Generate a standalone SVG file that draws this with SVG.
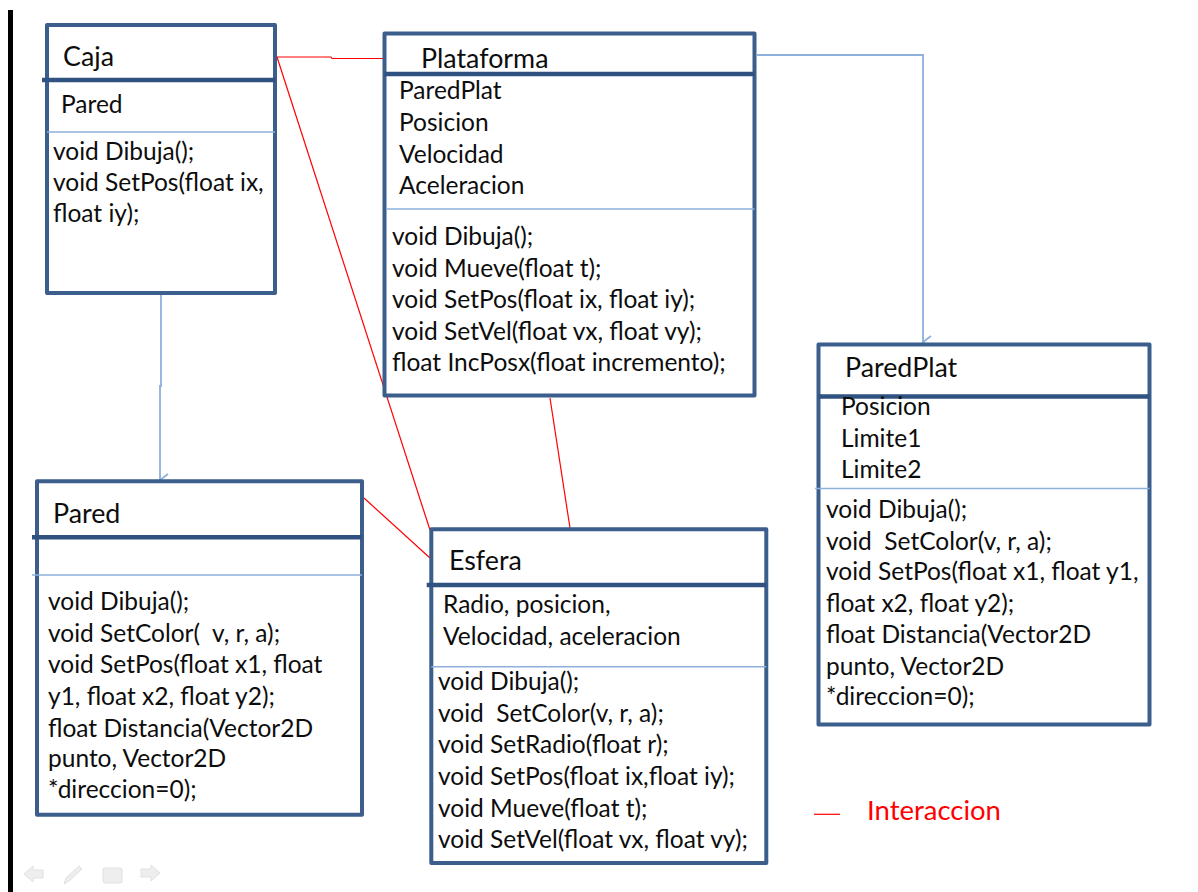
<svg xmlns="http://www.w3.org/2000/svg" width="1198" height="892" viewBox="0 0 1198 892" xml:space="preserve">
<defs>
<style>
.box{fill:#fff;stroke:#3B5E8C;stroke-width:4;stroke-linejoin:round}
.hdr{stroke:#2F5280;stroke-width:4.5;fill:none}
.sep{stroke:#8DB0DC;stroke-width:1.5;fill:none}
.t{font-family:Lato,"Liberation Sans",sans-serif;font-size:24.5px;fill:#0d0d0d;white-space:pre}
.h{font-family:Lato,"Liberation Sans",sans-serif;font-size:26.8px;fill:#0d0d0d;white-space:pre}
.red{stroke:#FF0000;stroke-width:1.2;fill:none}
.blue{stroke:#8DB0DC;stroke-width:1.8;fill:none}
.ico{fill:#eeeeee;stroke:#e0e0e0;stroke-width:1}
</style>
<marker id="arr" viewBox="0 0 14 10" refX="7" refY="9" markerWidth="14" markerHeight="10" markerUnits="userSpaceOnUse" orient="auto-start-reverse">
<path d="M1,1 L7,9 L13,1" fill="none" stroke="#8DB0DC" stroke-width="1.8"/>
</marker>
</defs>
<rect width="1198" height="892" fill="#fff"/>
<rect x="8" y="10" width="5" height="882" fill="#000"/>

<g id="connectors">
<polyline class="red" points="277,57 331,57 332,58.5 387,58.5"/>
<line class="red" x1="277" y1="57" x2="430" y2="530"/>
<line class="red" x1="364" y1="498" x2="430" y2="558"/>
<line class="red" x1="550" y1="398" x2="570" y2="528"/>
<polyline class="blue" points="757,55 923,55 923,342" marker-end="url(#arr)"/>
<polyline class="blue" points="161,295 161,386 160,386 160,480" marker-end="url(#arr)"/>
</g>

<g id="caja">
<rect class="box" x="47" y="25" width="228" height="268"/>
<line class="hdr" x1="42" y1="80" x2="275" y2="80"/>
<line class="sep" x1="47" y1="132" x2="275" y2="132"/>
<text class="h" x="63" y="66">Caja</text>
<text class="t" x="61" y="113">Pared</text>
<text class="t" x="53" y="160">void Dibuja();</text>
<text class="t" x="53" y="191">void SetPos(float ix,</text>
<text class="t" x="53" y="222">float iy);</text>
</g>

<g id="plataforma">
<rect class="box" x="384.5" y="33.5" width="370" height="362"/>
<line class="hdr" x1="384.5" y1="74" x2="754.5" y2="74"/>
<line class="sep" x1="387" y1="209" x2="754.5" y2="209"/>
<text class="h" x="421" y="68">Plataforma</text>
<text class="t" x="399" y="99">ParedPlat</text>
<text class="t" x="399" y="131">Posicion</text>
<text class="t" x="399" y="163">Velocidad</text>
<text class="t" x="399" y="194">Aceleracion</text>
<text class="t" x="392" y="245">void Dibuja();</text>
<text class="t" x="392" y="277">void Mueve(float t);</text>
<text class="t" x="392" y="308">void SetPos(float ix, float iy);</text>
<text class="t" x="392" y="340">void SetVel(float vx, float vy);</text>
<text class="t" x="392" y="371">float IncPosx(float incremento);</text>
</g>

<g id="paredplat">
<rect class="box" x="818.5" y="344.5" width="331" height="380"/>
<line class="hdr" x1="818.5" y1="396.5" x2="1149.5" y2="396.5"/>
<line class="sep" x1="815" y1="488.5" x2="1149.5" y2="488.5"/>
<text class="h" x="845" y="377">ParedPlat</text>
<text class="t" x="841" y="415">Posicion</text>
<text class="t" x="841" y="447">Limite1</text>
<text class="t" x="841" y="478">Limite2</text>
<text class="t" x="826" y="518">void Dibuja();</text>
<text class="t" x="826" y="550">void  SetColor(v, r, a);</text>
<text class="t" x="826" y="580">void SetPos(float x1, float y1,</text>
<text class="t" x="826" y="612">float x2, float y2);</text>
<text class="t" x="826" y="643">float Distancia(Vector2D</text>
<text class="t" x="826" y="675">punto, Vector2D</text>
<text class="t" x="826" y="705">*direccion=0);</text>
</g>

<g id="pared">
<rect class="box" x="37" y="481.3" width="325" height="333.4"/>
<line class="hdr" x1="32" y1="537.3" x2="362" y2="537.3"/>
<line class="sep" x1="32" y1="575" x2="362" y2="575"/>
<text class="h" x="53" y="523">Pared</text>
<text class="t" x="48" y="610">void Dibuja();</text>
<text class="t" x="48" y="642">void SetColor(  v, r, a);</text>
<text class="t" x="48" y="673">void SetPos(float x1, float</text>
<text class="t" x="48" y="705">y1, float x2, float y2);</text>
<text class="t" x="48" y="737">float Distancia(Vector2D</text>
<text class="t" x="48" y="767">punto, Vector2D</text>
<text class="t" x="48" y="798">*direccion=0);</text>
</g>

<g id="esfera">
<rect class="box" x="431.3" y="529.3" width="335" height="333.7"/>
<line class="hdr" x1="426.7" y1="585" x2="766.3" y2="585"/>
<line class="sep" x1="431.3" y1="666.7" x2="766.3" y2="666.7"/>
<text class="h" x="449" y="570">Esfera</text>
<text class="t" x="443" y="613">Radio, posicion,</text>
<text class="t" x="443" y="645">Velocidad, aceleracion</text>
<text class="t" x="438" y="690">void Dibuja();</text>
<text class="t" x="438" y="722">void  SetColor(v, r, a);</text>
<text class="t" x="438" y="753">void SetRadio(float r);</text>
<text class="t" x="438" y="785">void SetPos(float ix,float iy);</text>
<text class="t" x="438" y="817">void Mueve(float t);</text>
<text class="t" x="438" y="848">void SetVel(float vx, float vy);</text>
</g>

<g id="legend">
<line class="red" x1="814" y1="814.3" x2="840" y2="814.3"/>
<text class="h" x="867" y="820" style="fill:#FF0000;font-size:27.5px">Interaccion</text>
</g>

<g id="nav-icons">
<path class="ico" d="M24,874 L33,866 L33,870 L43,870 L43,878 L33,878 L33,882 Z"/>
<path class="ico" d="M64,884 L66,878 L79,866 L82,869 L69,881 Z"/>
<rect class="ico" x="103" y="868" width="19" height="15" rx="2"/>
<path class="ico" d="M160,873 L151,865 L151,869 L141,869 L141,877 L151,877 L151,881 Z"/>
</g>
</svg>
